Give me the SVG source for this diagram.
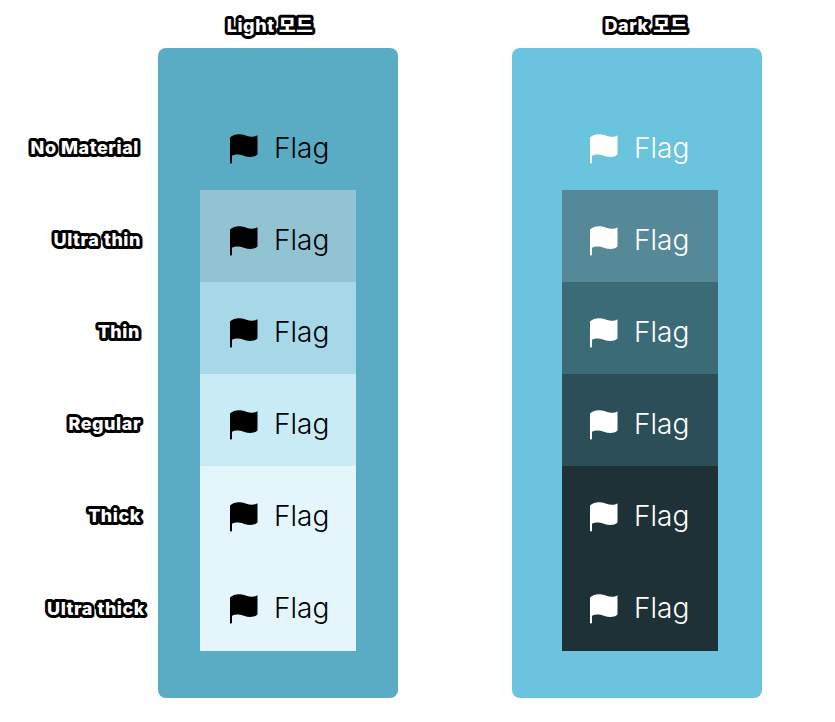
<svg xmlns="http://www.w3.org/2000/svg" width="835" height="722" viewBox="0 0 835 722">
<style>
.lb{font-family:Inter,"Noto Sans CJK KR",sans-serif;font-weight:800;font-size:18px;letter-spacing:.55px;fill:#fff;stroke:#000;stroke-width:6px;stroke-linejoin:round;paint-order:stroke;text-anchor:end}
.hd{text-anchor:middle}
.fl{font-family:Inter,"Noto Sans",sans-serif;font-size:28px;font-weight:350}
.k{fill:#000}
.w{fill:#fff}
</style>
<defs>
<path id="flag" d="M0 3.5C3 .8 6.5 0 10 .3C15 .7 18 2.8 22 2.8C24 2.8 26 2.2 27.5 1.2L27.5 20.5C25.5 22.3 23 23 20.5 23C16 23 13 20.6 8.5 20.4C6 20.3 3.5 20.8 2 21.8L2 28.4C2 29 1.6 29.4 1 29.4C.4 29.4 0 29 0 28.4Z"/>
</defs>
<rect id="light-panel" x="158" y="48" width="240" height="650" rx="8" fill="#5aacc4"/>
<rect id="dark-panel" x="512" y="48" width="250" height="650" rx="8" fill="#6ac4dd"/>
<g id="light-materials">
<rect x="200" y="190" width="156" height="92" fill="#91c3d2"/>
<rect x="200" y="282" width="156" height="92" fill="#a6d8e8"/>
<rect x="200" y="374" width="156" height="92" fill="#c8ebf6"/>
<rect x="200" y="466" width="156" height="185" fill="#e4f6fc"/>
</g>
<g id="dark-materials">
<rect x="562" y="190" width="156" height="92" fill="#558998"/>
<rect x="562" y="282" width="156" height="92" fill="#3a6b77"/>
<rect x="562" y="374" width="156" height="92" fill="#2b4e59"/>
<rect x="562" y="466" width="156" height="185" fill="#1e3136"/>
</g>
<g id="labels">
<text class="lb hd" x="270" y="32">Light 모드</text>
<text class="lb hd" x="646" y="32">Dark 모드</text>
<text class="lb" x="139" y="154">No Material</text>
<text class="lb" x="141" y="246">Ultra thin</text>
<text class="lb" x="140" y="338">Thin</text>
<text class="lb" x="141" y="430">Regular</text>
<text class="lb" x="141" y="522">Thick</text>
<text class="lb" x="145" y="615">Ultra thick</text>
</g>
<g id="light-items" class="k">
<g id="l0"><use href="#flag" x="230" y="134"/><text class="fl" x="274" y="158">Flag</text></g>
<g id="l1"><use href="#flag" x="230" y="226"/><text class="fl" x="274" y="250">Flag</text></g>
<g id="l2"><use href="#flag" x="230" y="318"/><text class="fl" x="274" y="342">Flag</text></g>
<g id="l3"><use href="#flag" x="230" y="410"/><text class="fl" x="274" y="434">Flag</text></g>
<g id="l4"><use href="#flag" x="230" y="502"/><text class="fl" x="274" y="526">Flag</text></g>
<g id="l5"><use href="#flag" x="230" y="594"/><text class="fl" x="274" y="618">Flag</text></g>
</g>
<g id="dark-items" class="w">
<g id="d0"><use href="#flag" x="590" y="134"/><text class="fl" x="634" y="158">Flag</text></g>
<g id="d1"><use href="#flag" x="590" y="226"/><text class="fl" x="634" y="250">Flag</text></g>
<g id="d2"><use href="#flag" x="590" y="318"/><text class="fl" x="634" y="342">Flag</text></g>
<g id="d3"><use href="#flag" x="590" y="410"/><text class="fl" x="634" y="434">Flag</text></g>
<g id="d4"><use href="#flag" x="590" y="502"/><text class="fl" x="634" y="526">Flag</text></g>
<g id="d5"><use href="#flag" x="590" y="594"/><text class="fl" x="634" y="618">Flag</text></g>
</g>
</svg>
